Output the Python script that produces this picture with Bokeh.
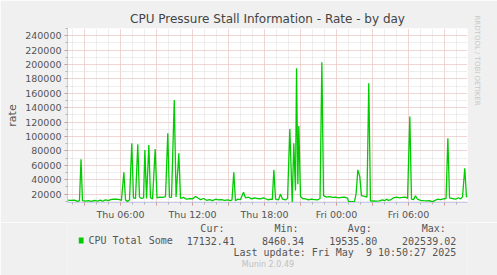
from bokeh.plotting import figure
from bokeh.models import FixedTicker, Range1d, Title, NumeralTickFormatter
from bokeh.layouts import column
from bokeh.core.properties import value
from bokeh.embed import file_html
from bokeh.resources import INLINE

# ---- data (hours since Thu 00:00, rate values) ----
hours = [1.58, 1.83, 2.17, 2.42, 2.58, 2.71, 2.83, 3.08, 3.33, 3.58, 3.83, 4.08, 4.33, 4.5, 4.75,
         5.0, 5.17, 5.42, 5.67, 5.92, 6.08, 6.28, 6.42, 6.58, 6.75, 6.94, 7.08, 7.25, 7.44, 7.58,
         7.75, 7.92, 8.03, 8.17, 8.36, 8.5, 8.67, 8.89, 9.04, 9.25, 9.5, 9.75, 9.94, 10.08, 10.25,
         10.48, 10.63, 10.86, 11.0, 11.25, 11.5, 11.75, 12.0, 12.25, 12.42, 12.67, 12.92, 13.17,
         13.42, 13.67, 13.92, 14.17, 14.42, 14.67, 14.92, 15.17, 15.29, 15.44, 15.58, 15.75, 16.0,
         16.25, 16.42, 16.67, 16.92, 17.17, 17.42, 17.67, 17.92, 18.17, 18.33, 18.5, 18.65, 18.78,
         18.92, 19.17, 19.33, 19.5, 19.75, 19.92, 20.11, 20.31, 20.44, 20.58, 20.67, 20.78, 20.86,
         21.0, 21.17, 21.42, 21.67, 21.92, 22.17, 22.42, 22.63, 22.78, 22.92, 23.17, 23.42, 23.67,
         23.92, 24.17, 24.42, 24.67, 24.92, 25.0, 25.25, 25.5, 25.63, 25.78, 25.94, 26.08, 26.33,
         26.54, 26.69, 26.83, 27.08, 27.33, 27.58, 27.83, 28.0, 28.17, 28.33, 28.5, 28.75, 29.0,
         29.25, 29.5, 29.75, 29.92, 30.11, 30.25, 30.42, 30.58, 30.75, 31.0, 31.25, 31.5, 31.75,
         32.0, 32.17, 32.42, 32.67, 32.92, 33.13, 33.28, 33.42, 33.67, 33.92, 34.17, 34.33, 34.5,
         34.69, 34.83, 34.92]
rate = [11700, 11500, 11800, 10000, 11000, 68500, 11000, 10500, 11000, 10000, 11500, 10500, 11800,
        10200, 12000, 11000, 12500, 13000, 13000, 12500, 11500, 50500, 12000, 10000, 12000, 90700,
        15000, 14000, 89300, 16000, 14000, 15000, 81400, 14000, 88400, 15000, 13500, 82800, 15000,
        16000, 15500, 16500, 104600, 16000, 15500, 150800, 16000, 76900, 14000, 15500, 13000, 14000,
        13500, 16700, 15000, 12500, 14000, 11500, 12500, 11000, 13000, 12000, 12500, 11500, 12000,
        11000, 12000, 50500, 11000, 13000, 12500, 22800, 15000, 15800, 13500, 15000, 14000, 13500,
        15000, 13000, 12000, 13000, 12500, 53700, 13000, 12000, 20400, 13000, 12000, 14000, 110600,
        8700, 90700, 25000, 194800, 33900, 114700, 16700, 14000, 13500, 12000, 13000, 12500, 12000,
        14000, 203100, 18000, 16000, 16500, 15500, 16000, 15000, 15500, 16000, 14500, 10000, 9800,
        10000, 20000, 53700, 44400, 18000, 17000, 16000, 174000, 10500, 10600, 10400, 10800, 12000,
        11000, 13000, 11500, 12000, 15000, 15800, 15000, 15500, 16000, 14000, 127700, 13000, 12500,
        17600, 13000, 11500, 11000, 10600, 11000, 9300, 11000, 13000, 12500, 13500, 14000, 97700,
        15000, 14000, 13000, 15000, 13500, 16000, 56000, 16000, 17132]

x_major = [3, 6, 9, 12, 15, 18, 21, 24, 27, 30, 33]
x_labels = {6: "Thu 06:00", 12: "Thu 12:00", 18: "Thu 18:00", 24: "Fri 00:00", 30: "Fri 06:00"}
y_major = list(range(20000, 240001, 20000))
y_minor = list(range(10000, 250001, 10000))

series_name = "CPU Total Some"
stats_head = ["Cur:", "Min:", "Avg:", "Max:"]
stats_vals = ["17132.41", "8460.34", "19535.80", "202539.02"]
last_update = "Last update: Fri May\u00a0 9 10:50:27 2025"
footer = "Munin 2.0.49"

BG = "#f0f0f0"
TXT = "#555555"
GREEN = "#00cc00"
MAIN_H = 222

p = figure(width=497, height=MAIN_H, output_backend="svg", toolbar_location=None,
           x_range=Range1d(1.583, 34.917), y_range=Range1d(8460, 250000),
           min_border_left=67, min_border_right=30, min_border_top=28,
           min_border_bottom=MAIN_H - 203)
p.background_fill_color = "white"
p.border_fill_color = BG
p.outline_line_color = None

p.title.text = "CPU Pressure Stall Information - Rate - by day"
p.title.align = "center"
p.title.text_font = "DejaVu Sans"
p.title.text_font_size = "12px"
p.title.text_font_style = "normal"
p.title.text_color = "#444444"
p.title.standoff = 6

p.add_layout(Title(text="RRDTOOL / TOBI OETIKER", align="left", offset=-13,
                   text_font="DejaVu Sans", text_font_size="7px",
                   text_font_style="normal", text_color="#c8c8c8"), "right")

# axes
xa = p.xaxis[0]
xa.ticker = FixedTicker(ticks=x_major, minor_ticks=list(range(2, 35)))
xa.major_label_overrides = {t: x_labels.get(t, "") for t in x_major}
ya = p.yaxis[0]
ya.ticker = FixedTicker(ticks=y_major, minor_ticks=y_minor)
ya.formatter = NumeralTickFormatter(format="0")
ya.axis_label = "rate"
ya.axis_label_text_font = "DejaVu Sans"
ya.axis_label_text_font_size = "11px"
ya.axis_label_text_font_style = "normal"
ya.axis_label_text_color = TXT
ya.axis_label_standoff = 3
for ax in (xa, ya):
    ax.axis_line_color = "#c8c8f0"
    ax.major_tick_line_color = "#e88080"
    ax.minor_tick_line_color = "#b0b0b0"
    ax.major_tick_out = 3
    ax.major_tick_in = 0
    ax.minor_tick_out = 2
    ax.minor_tick_in = 0
    ax.major_label_text_font = "DejaVu Sans"
    ax.major_label_text_font_size = "9.5px"
    ax.major_label_text_color = TXT
    ax.major_label_standoff = 3

# grids
p.xgrid.ticker = FixedTicker(ticks=x_major, minor_ticks=list(range(2, 35)))
p.ygrid.ticker = FixedTicker(ticks=y_major, minor_ticks=y_minor)
for g in (p.xgrid[0], p.ygrid[0]):
    g.grid_line_color = "#f2bcbc"
    g.grid_line_dash = "1 1"
    g.grid_line_width = 1
    g.minor_grid_line_color = "#dcdcdc"
    g.minor_grid_line_dash = "1 1"
    g.minor_grid_line_width = 1

p.line(hours, rate, line_color=GREEN, line_width=1.3)

# ---- legend / footer panel (pixel coordinates, y downward) ----
q = figure(width=497, height=275 - MAIN_H, output_backend="svg", toolbar_location=None,
           x_range=Range1d(0, 497), y_range=Range1d(275, MAIN_H),
           x_axis_type=None, y_axis_type=None,
           min_border_left=0, min_border_right=0, min_border_top=0, min_border_bottom=0)
q.background_fill_color = BG
q.border_fill_color = BG
q.outline_line_color = None
q.grid.visible = False

mono = value("DejaVu Sans Mono")
head_right = [195, 287, 378, 470]
val_right = [208, 294, 385, 483]
q.text(x=head_right, y=[228] * 4, text=stats_head, text_font=mono, text_font_size="10px",
       text_color=TXT, text_align="right", text_baseline="middle")
q.text(x=[26], y=[240], text=[series_name], text_font=mono, text_font_size="10px",
       text_color=TXT, text_align="left", text_baseline="middle")
q.text(x=val_right, y=[240] * 4, text=stats_vals, text_font=mono, text_font_size="10px",
       text_color=TXT, text_align="right", text_baseline="middle")
q.text(x=[483], y=[252], text=[last_update], text_font=mono, text_font_size="10px",
       text_color=TXT, text_align="right", text_baseline="middle")
q.text(x=[249], y=[264], text=[footer], text_font=value("DejaVu Sans"), text_font_size="8px",
       text_color="#c0c0c0", text_align="center", text_baseline="middle")
q.quad(left=[14], right=[20], top=[237], bottom=[243], fill_color=GREEN, line_color=None)

layout = column(p, q, spacing=0)
open("out.html", "w").write(file_html(layout, INLINE))
